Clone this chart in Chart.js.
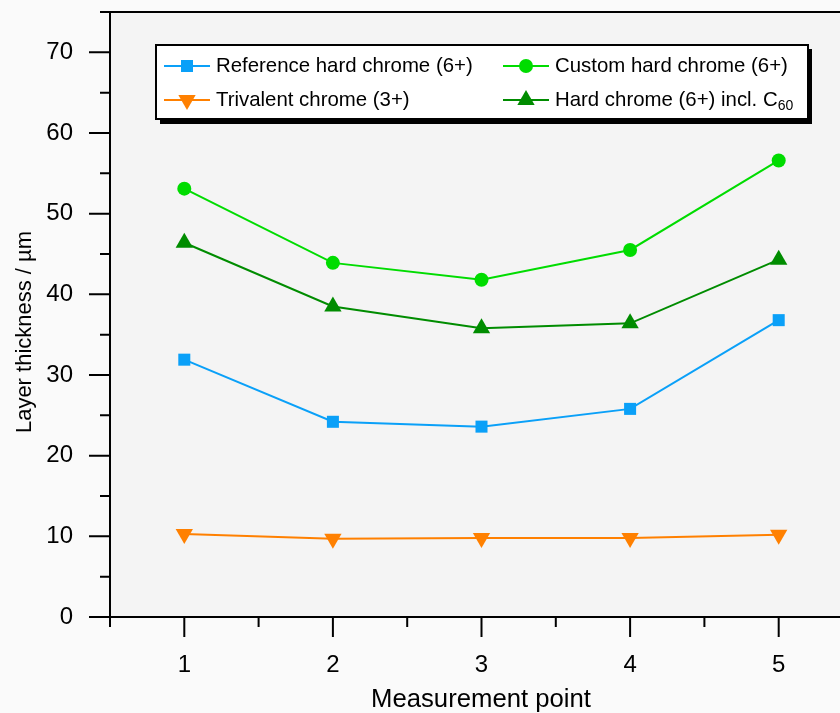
<!DOCTYPE html>
<html>
<head>
<meta charset="utf-8">
<script src="https://cdn.jsdelivr.net/npm/chart.js@4.4.1/dist/chart.umd.min.js"></script>
<style>
  html, body { margin: 0; padding: 0; background: #fafafa; overflow: hidden; }
  #myChart { display: block; }
</style>
</head>
<body>
<canvas id="myChart" width="853" height="713"></canvas>
<script>
const points = [1, 2, 3, 4, 5];
const refHard = [31.9, 24.2, 23.6, 25.8, 36.8];
const customHard = [53.1, 43.9, 41.8, 45.5, 56.6];
const trivalent = [10.3, 9.7, 9.8, 9.8, 10.2];
const hardC60 = [46.4, 38.5, 35.8, 36.4, 44.3];

const seriesNames = ['Reference hard chrome (6+)', 'Custom hard chrome (6+)', 'Trivalent chrome (3+)', 'Hard chrome (6+) incl. C'];
const seriesSub = ['', '', '', '60'];

const xTicks = [0.5, 1, 1.5, 2, 2.5, 3, 3.5, 4, 4.5, 5, 5.5];
const yTicks = [0, 5, 10, 15, 20, 25, 30, 35, 40, 45, 50, 55, 60, 65, 70, 75];

const xTitle = 'Measurement point';
const yTitle = 'Layer thickness / µm';

const FONT = 'Arial, "Liberation Sans", sans-serif';
Chart.defaults.font.family = FONT;
Chart.defaults.color = '#000';

const ctx = document.getElementById('myChart').getContext('2d');

const toXY = (vals) => points.map((p, i) => ({ x: p, y: vals[i] }));

const data = {
  datasets: [{
    label: seriesNames[0],
    data: toXY(refHard),
    borderColor: '#0aa0f8',
    backgroundColor: '#0aa0f8',
    pointStyle: 'rect',
    pointRadius: 8.5,
    rotation: 0
  }, {
    label: seriesNames[1],
    data: toXY(customHard),
    borderColor: '#00dc00',
    backgroundColor: '#00dc00',
    pointStyle: 'circle',
    pointRadius: 7,
    rotation: 0
  }, {
    label: seriesNames[2],
    data: toXY(trivalent),
    borderColor: '#ff8000',
    backgroundColor: '#ff8000',
    pointStyle: 'triangle',
    pointRadius: 10,
    rotation: 180
  }, {
    label: seriesNames[3],
    data: toXY(hardC60),
    borderColor: '#008c00',
    backgroundColor: '#008c00',
    pointStyle: 'triangle',
    pointRadius: 10,
    rotation: 0
  }]
};

// the tick padding would otherwise be added around the plot area
function noPad(scale) {
  scale.paddingTop = 0;
  scale.paddingBottom = 0;
  scale.paddingLeft = 0;
  scale.paddingRight = 0;
}

// background, axes, ticks, titles and the legend box
const frame = {
  id: 'frame',
  beforeDraw(chart) {
    const a = chart.chartArea;
    const c = chart.ctx;
    c.save();
    c.fillStyle = '#f4f4f4';
    c.fillRect(a.left, a.top, a.right - a.left, a.bottom - a.top);
    c.restore();
  },
  afterDraw(chart) {
    const a = chart.chartArea;
    const c = chart.ctx;
    const xs = chart.scales.x, ys = chart.scales.y;
    c.save();
    c.strokeStyle = '#000';
    c.lineWidth = 2;
    c.beginPath();
    c.moveTo(a.left, a.top); c.lineTo(a.left, a.bottom);
    c.moveTo(a.left - 21, a.bottom); c.lineTo(a.right, a.bottom);
    c.moveTo(a.left - 10, a.top); c.lineTo(a.right, a.top);
    yTicks.forEach(v => {
      const y = ys.getPixelForValue(v);
      const len = v % 10 === 0 ? 21 : 10;
      c.moveTo(a.left - len, y); c.lineTo(a.left, y);
    });
    xTicks.forEach(v => {
      const x = xs.getPixelForValue(v);
      const len = Number.isInteger(v) ? 20 : 10;
      c.moveTo(x, a.bottom); c.lineTo(x, a.bottom + len);
    });
    c.stroke();

    // axis titles
    c.fillStyle = '#000';
    c.textAlign = 'center';
    c.textBaseline = 'middle';
    c.font = '25.7px ' + FONT;
    c.fillText(xTitle, 481, 700);
    c.translate(25, 332);
    c.rotate(-Math.PI / 2);
    c.font = '22px ' + FONT;
    c.fillText(yTitle, 0, 0);
    c.restore();

    // legend
    c.save();
    c.fillStyle = '#000';
    c.fillRect(160, 49, 652, 75);
    c.fillStyle = '#fff';
    c.fillRect(156, 45, 652, 74);
    c.strokeStyle = '#000';
    c.lineWidth = 2;
    c.strokeRect(156, 45, 652, 74);
    const slots = [{ x: 164, y: 66 }, { x: 503, y: 66 }, { x: 164, y: 100 }, { x: 503, y: 100 }];
    chart.data.datasets.forEach((ds, i) => {
      const s = slots[i];
      c.strokeStyle = ds.borderColor;
      c.lineWidth = 2;
      c.beginPath();
      c.moveTo(s.x, s.y); c.lineTo(s.x + 46, s.y);
      c.stroke();
      c.fillStyle = ds.backgroundColor;
      Chart.helpers.drawPoint(c, { pointStyle: ds.pointStyle, radius: ds.pointRadius, rotation: ds.rotation, borderWidth: 0 }, s.x + 23, s.y);
      c.fillStyle = '#000';
      c.font = '20.4px ' + FONT;
      c.textAlign = 'left';
      c.textBaseline = 'middle';
      c.fillText(ds.label, s.x + 52, s.y);
      if (seriesSub[i]) {
        const w = c.measureText(ds.label).width;
        c.font = '14px ' + FONT;
        c.fillText(seriesSub[i], s.x + 52 + w, s.y + 6);
      }
    });
    c.restore();
  }
};

const config = {
  type: 'line',
  data,
  options: {
    responsive: false,
    animation: false,
    layout: { autoPadding: false, padding: { top: 12, left: 0, right: 0, bottom: 0 } },
    elements: {
      line: { borderWidth: 2, tension: 0 },
      point: { borderWidth: 0, hoverRadius: 8 }
    },
    scales: {
      x: {
        type: 'linear',
        min: 0.5,
        max: 5.5,
        offset: false,
        grid: { display: false, drawTicks: false },
        border: { display: false },
        afterBuildTicks: (scale) => { scale.ticks = xTicks.map(v => ({ value: v })); },
        afterFit: (scale) => { scale.height = 96; noPad(scale); },
        ticks: {
          autoSkip: false,
          maxRotation: 0,
          padding: 34,
          font: { size: 24 },
          callback: (v) => Number.isInteger(v) ? String(v) : ''
        }
      },
      y: {
        min: 0,
        max: 75,
        grid: { display: false, drawTicks: false },
        border: { display: false },
        afterBuildTicks: (scale) => { scale.ticks = yTicks.map(v => ({ value: v })); },
        afterFit: (scale) => { scale.width = 110; noPad(scale); },
        ticks: {
          autoSkip: false,
          padding: 37,
          font: { size: 24 },
          callback: (v) => v % 10 === 0 ? String(v) : ''
        }
      }
    },
    plugins: {
      legend: { display: false },
      tooltip: { enabled: false }
    }
  },
  plugins: [frame]
};

let myChart = new Chart(ctx, config);
</script>
</body>
</html>
